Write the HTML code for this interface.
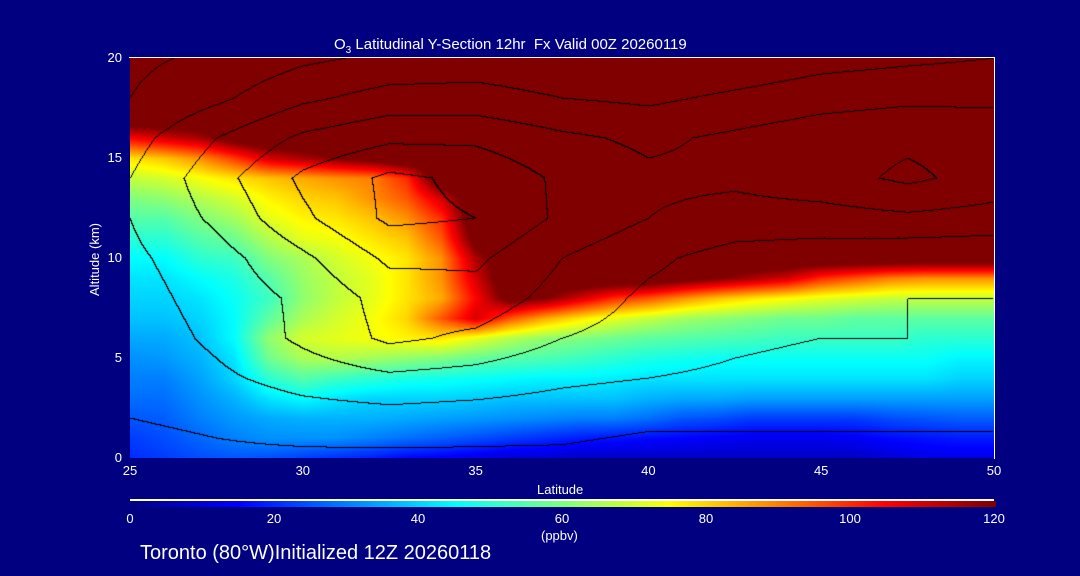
<!DOCTYPE html>
<html><head><meta charset="utf-8"><style>
body{margin:0;background:#000080;width:1080px;height:576px;overflow:hidden;position:relative;font-family:"Liberation Sans",sans-serif;color:#fff}
.t{position:absolute;font-size:13px;white-space:nowrap}
</style></head><body>
<div class="t" style="left:334px;top:36px;font-size:15px">O<sub style="font-size:10px">3</sub> Latitudinal Y-Section 12hr &nbsp;Fx Valid 00Z 20260119</div>
<canvas id="c" width="864" height="400" style="position:absolute;left:130px;top:58px"></canvas>
<div style="position:absolute;left:129px;top:57px;width:865px;height:401px;border-top:1px solid #fff;border-right:1px solid #fff"></div>
<div id="ax"></div>
<div class="t" style="left:58px;top:252px;transform:rotate(-90deg)">Altitude (km)</div>
<div class="t" style="left:537px;top:482px">Latitude</div>
<div style="position:absolute;left:130px;top:499px;width:864px;height:2px;background:#fff"></div>
<canvas id="cb" width="866" height="6" style="position:absolute;left:130px;top:501px"></canvas>
<div class="t" style="left:541px;top:528px">(ppbv)</div>
<div class="t" style="left:140px;top:542px;font-size:20px">Toronto (80°W)Initialized 12Z 20260118</div>
<script>
const lats=[25,26,27,28,29,30,31,32,33,34,35,36,37,38,39,40,41,42,43,44,45,46,47,48,49,50];
const alts=[0,1,2,3,4,5,6,7,8,9,10,11,12,13,14,15,16,17,18,19,20];
const o3Rows=[
[20,22,24,25,24,22,20,18,15,14,12,10,10,8,8,8,8,8,8,8,8,8,10,12,12,12],
[22,24,27,30,32,32,32,30,28,26,24,22,20,18,17,16,15,14,13,13,13,14,16,17,18,18],
[25,26,30,33,35,36,36,36,35,34,33,32,31,30,30,28,25,24,22,22,22,22,24,25,26,26],
[28,28,32,36,42,45,42,40,40,40,39,38,38,38,38,36,35,35,34,34,34,34,34,34,34,34],
[30,30,34,40,50,55,52,50,48,47,46,45,44,44,43,42,42,42,42,42,42,42,42,42,40,40],
[32,33,36,42,58,65,66,64,62,60,57,55,54,52,50,48,47,46,46,46,46,46,46,46,44,44],
[35,35,38,45,62,70,72,74,76,78,72,66,62,60,58,56,55,54,53,52,52,52,52,50,50,50],
[38,38,40,45,56,65,70,74,80,95,110,95,85,78,72,68,64,62,60,58,58,56,56,56,56,56],
[40,40,42,46,52,62,68,72,78,85,105,125,120,110,100,95,88,82,78,75,72,70,68,68,68,68],
[42,42,45,48,55,63,68,72,78,88,110,130,130,130,130,130,125,120,115,110,100,95,90,88,88,88],
[45,45,50,52,60,65,70,74,78,88,115,130,130,130,130,130,130,130,130,130,130,130,130,130,130,130],
[50,50,55,58,66,72,74,78,82,95,125,130,130,130,130,130,130,130,130,130,130,130,130,130,130,130],
[55,55,60,64,72,76,78,82,88,100,130,130,130,130,130,130,130,130,130,130,130,130,130,130,130,130],
[60,62,66,70,76,80,82,88,95,110,130,130,130,130,130,130,130,130,130,130,130,130,130,130,130,130],
[68,70,74,78,82,85,88,90,100,130,130,130,130,130,130,130,130,130,130,130,130,130,130,130,130,130],
[78,82,88,98,110,115,120,125,130,130,130,130,130,130,130,130,130,130,130,130,130,130,130,130,130,130],
[105,110,115,125,130,130,130,130,130,130,130,130,130,130,130,130,130,130,130,130,130,130,130,130,130,130],
[130,130,130,130,130,130,130,130,130,130,130,130,130,130,130,130,130,130,130,130,130,130,130,130,130,130],
[130,130,130,130,130,130,130,130,130,130,130,130,130,130,130,130,130,130,130,130,130,130,130,130,130,130],
[130,130,130,130,130,130,130,130,130,130,130,130,130,130,130,130,130,130,130,130,130,130,130,130,130,130],
[130,130,130,130,130,130,130,130,130,130,130,130,130,130,130,130,130,130,130,130,130,130,130,130,130,130]];
const lineLats=[25,27.5,30,32.5,35,37.5,40,42.5,45,47.5,50];
const lineAlts=[0,2,4,6,8,10,12,14,16,18,20];
const lineRows=[
[6,8,8,8,8,8,6,6,6,6,6],
[10,12,15,16,15,14,12,12,12,12,12],
[12,18,24,28,26,22,20,18,16,16,16],
[14,22,32,42,38,30,26,22,20,20,18],
[16,24,32,44,46,36,28,24,22,20,20],
[18,26,38,52,52,40,32,26,24,22,22],
[20,32,48,62,60,48,40,36,36,38,36],
[20,36,52,62,58,48,42,42,46,52,46],
[16,30,42,48,48,42,38,42,46,48,46],
[10,18,28,34,34,30,28,32,36,38,38],
[8,12,18,22,24,22,20,22,26,28,30]];
const xTicks=[25,30,35,40,45,50];
const yTicks=[0,5,10,15,20];
const cbTicks=[0,20,40,60,80,100,120];
const X0=130,W=864,Y0=458,H=400;
const xs=l=>X0+(l-25)/25*W, ys=a=>Y0-a/20*H;
function jet(v){let t=Math.max(0,Math.min(1,v/120));
 const st=[[0,0,0,128],[0.125,0,0,255],[0.375,0,255,255],[0.625,255,255,0],[0.875,255,0,0],[1,128,0,0]];
 for(let i=1;i<st.length;i++){if(t<=st[i][0]){const a=st[i-1],b=st[i],f=(t-a[0])/(b[0]-a[0]);return [a[1]+f*(b[1]-a[1]),a[2]+f*(b[2]-a[2]),a[3]+f*(b[3]-a[3])];}}
 return [128,0,0];}
function interp(gx,gy,rows,x,y){let i=0;while(i<gx.length-2&&x>gx[i+1])i++;let j=0;while(j<gy.length-2&&y>gy[j+1])j++;
 const fx=Math.max(0,Math.min(1,(x-gx[i])/(gx[i+1]-gx[i]))),fy=Math.max(0,Math.min(1,(y-gy[j])/(gy[j+1]-gy[j])));
 return (rows[j][i]*(1-fx)+rows[j][i+1]*fx)*(1-fy)+(rows[j+1][i]*(1-fx)+rows[j+1][i+1]*fx)*fy;}
const c=document.getElementById('c'),ctx=c.getContext('2d'),img=ctx.createImageData(W,H);
const L=new Float32Array(W*H);
for(let py=0;py<H;py++)for(let px=0;px<W;px++){const lat=25+px/W*25,alt=20-py/H*20;
 const v=interp(lats,alts,o3Rows,lat,alt),col=jet(v),k=(py*W+px)*4;
 img.data[k]=col[0];img.data[k+1]=col[1];img.data[k+2]=col[2];img.data[k+3]=255;
 L[py*W+px]=Math.floor(interp(lineLats,lineAlts,lineRows,lat,alt)/10);}
for(let py=0;py<H-1;py++)for(let px=0;px<W-1;px++){const a=L[py*W+px];
 if(a!==L[py*W+px+1]||a!==L[(py+1)*W+px]){const k=(py*W+px)*4;img.data[k]=img.data[k+1]=img.data[k+2]=0;}}
ctx.putImageData(img,0,0);
const ax=document.getElementById('ax');
function lab(txt,x,y,name,al){const d=document.createElement('div');d.className='t';d.textContent=txt;
 
 
 d.style.left=x+'px';d.style.top=y+'px';if(al)d.style.transform=al;ax.appendChild(d);}
xTicks.forEach(v=>lab(v,xs(v),463,'x-tick-label','translateX(-50%)'));
yTicks.forEach(v=>lab(v,122,ys(v)-8,'y-tick-label','translateX(-100%)'));
cbTicks.forEach(v=>lab(v,130+v/120*864,511,'colorbar-tick-label','translateX(-50%)'));
const cb=document.getElementById('cb').getContext('2d');
for(let i=0;i<866;i++){const col=jet(i/864*120);cb.fillStyle=`rgb(${col[0]|0},${col[1]|0},${col[2]|0})`;cb.fillRect(i,0,1,6);}
</script>
</body></html>
